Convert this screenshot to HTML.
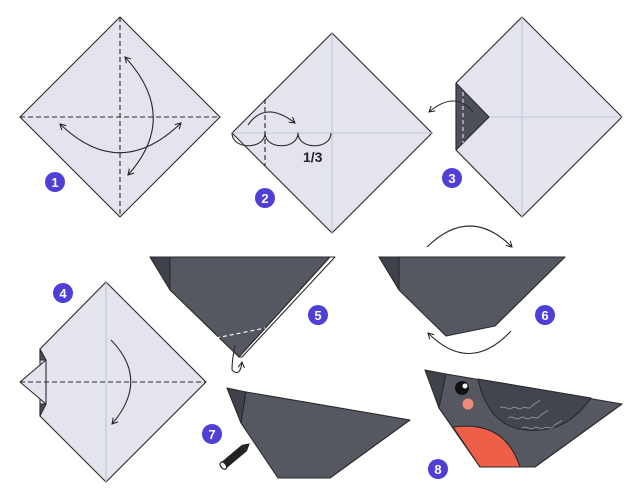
<!DOCTYPE html>
<html><head><meta charset="utf-8"><style>html,body{margin:0;padding:0;background:#fff}svg{display:block}</style></head><body>
<svg width="643" height="500" viewBox="0 0 643 500" xmlns="http://www.w3.org/2000/svg" font-family="Liberation Sans, sans-serif">
<defs>
<marker id="ar" viewBox="0 0 10 10" refX="8" refY="5" markerWidth="8" markerHeight="8" orient="auto-start-reverse" markerUnits="userSpaceOnUse"><path d="M1,1 L8,5 L1,9" fill="none" stroke="#222" stroke-width="1.3"/></marker>
</defs>
<g stroke="#2a2a2a" stroke-width="1.1" stroke-linejoin="round">
<!-- 1 -->
<polygon points="120,17 220,117 120,217 20,117" fill="#e3e4ee"/>
<line x1="120" y1="17" x2="120" y2="217" stroke-dasharray="5,3"/>
<line x1="20" y1="117" x2="220" y2="117" stroke-dasharray="5,3"/>
<path d="M125,57 Q180,117 128,175" fill="none" marker-start="url(#ar)" marker-end="url(#ar)"/>
<path d="M60,124 Q120,182 181,123" fill="none" marker-start="url(#ar)" marker-end="url(#ar)"/>
<!-- 2 -->
<polygon points="332,33 432,133 332,233 232,133" fill="#e3e4ee"/>
<line x1="332" y1="33" x2="332" y2="233" stroke="#c5c7d8"/>
<line x1="232" y1="133" x2="432" y2="133" stroke="#c5c7d8"/>
<line x1="265" y1="99" x2="265" y2="166" stroke-dasharray="5,3"/>
<path d="M248,125 Q265,100 295,123" fill="none" marker-end="url(#ar)"/>
<path d="M232,133 C232,150 265,150 265,133 C265,150 298,150 298,133 C298,150 331,150 331,133" fill="none"/>
<!-- 3 -->
<polygon points="522,17 622,117 522,217 456,150 456,83" fill="#e3e4ee"/>
<line x1="522" y1="17" x2="522" y2="217" stroke="#c5c7d8"/>
<line x1="456" y1="117" x2="622" y2="117" stroke="#c5c7d8"/>
<polygon points="456,83 489,117 456,150" fill="#4e5058"/>
<line x1="463" y1="92" x2="463" y2="143" stroke="#ddd" stroke-dasharray="4,3"/>
<path d="M473,112 Q455,90 429,112" fill="none" marker-end="url(#ar)"/>
<!-- 4 -->
<polygon points="106,282 206,382 106,482 40,416 40,349" fill="#e3e4ee"/>
<line x1="106" y1="282" x2="106" y2="482" stroke="#c5c7d8"/>
<polygon points="40,349 46,360 40,360" fill="#4e5058"/>
<polygon points="40,404 46,404 40,416" fill="#4e5058"/>
<polygon points="46,360 20,382 46,404" fill="#e3e4ee"/>
<line x1="20" y1="382" x2="206" y2="382" stroke-dasharray="5,3"/>
<path d="M111,340 Q150,380 112,424" fill="none" marker-end="url(#ar)"/>
<!-- 5 -->
<polygon points="150,257 170,257 170,290" fill="#3f424a"/>
<polygon points="170,257 330,257 239,357 170,290" fill="#555860"/>
<polygon points="330,257 335,257 242,357 239,357" fill="#fff"/>
<line x1="216" y1="338" x2="265" y2="328" stroke="#fff" stroke-dasharray="4,3"/>
<path d="M235,345 Q232,360 232,370 Q240,378 242,362" fill="none" marker-end="url(#ar)"/>
<!-- 6 -->
<polygon points="379,257 399,257 399,290" fill="#3f424a"/>
<polygon points="399,257 565,257 495,326 446,336 399,290" fill="#555860"/>
<path d="M427,247 Q470,205 512,247" fill="none" marker-end="url(#ar)"/>
<path d="M511,331 Q470,375 428,333" fill="none" marker-end="url(#ar)"/>
<!-- 7 -->
<polygon points="227,388 246,392 241,423" fill="#3f424a"/>
<polygon points="246,392 410,420 330,478 278,478 241,423" fill="#555860"/>
<!-- 8 -->
<polygon points="425,370 446,374 439,408" fill="#3f424a"/>
<polygon points="446,374 622,404 535,467 480,467 439,408" fill="#555860"/>
<path d="M478,379 Q490,435 540,430 Q570,428 591,398 Z" fill="#42454d"/>
<path d="M453,427 Q505,420 520,467 L480,467 Z" fill="#ef5f48"/>
</g>
<g fill="none" stroke="#8a8d96" stroke-width="1">
<path d="M500,408 c5,-3 8,3 12,0 c4,-3 6,3 10,0 c4,-3 6,3 10,-2 c3,-4 5,-2 8,-6"/>
<path d="M508,418 c5,-3 8,3 12,0 c4,-3 6,3 10,0 c4,-3 6,3 10,-2 c3,-4 5,-2 8,-6"/>
<path d="M522,428 c5,-3 8,3 12,0 c4,-3 6,3 10,0 c4,-3 6,3 10,-2 c3,-4 5,-2 8,-6"/>
</g>
<circle cx="462" cy="388" r="7" fill="#111"/>
<circle cx="465" cy="386" r="2.5" fill="#fff"/>
<circle cx="468" cy="404" r="5.5" fill="#f08a7a"/>
<!-- pencil -->
<g transform="translate(236,455) rotate(-40)">
<rect x="-15" y="-4" width="26" height="8" fill="#222"/>
<polygon points="11,-4 18,0 11,4" fill="#222"/>
<rect x="-19" y="-4" width="5" height="8" rx="3" fill="#fff" stroke="#222" stroke-width="1.2"/>
</g>
<!-- badges -->
<g fill="#4f3fd6"><circle cx="55" cy="182" r="10"/><circle cx="265" cy="198" r="10"/><circle cx="452" cy="178" r="10"/><circle cx="63" cy="293" r="10"/><circle cx="318" cy="315" r="10"/><circle cx="545" cy="315" r="10"/><circle cx="212" cy="434" r="10"/><circle cx="438" cy="469" r="10"/></g>
<g fill="#fff" font-size="13" font-weight="bold" text-anchor="middle"><text x="55" y="187">1</text><text x="265" y="203">2</text><text x="452" y="183">3</text><text x="63" y="298">4</text><text x="318" y="320">5</text><text x="545" y="320">6</text><text x="212" y="439">7</text><text x="438" y="474">8</text></g>
<text x="303" y="162" font-size="14" font-weight="bold" fill="#222">1/3</text>
</svg>
</body></html>
